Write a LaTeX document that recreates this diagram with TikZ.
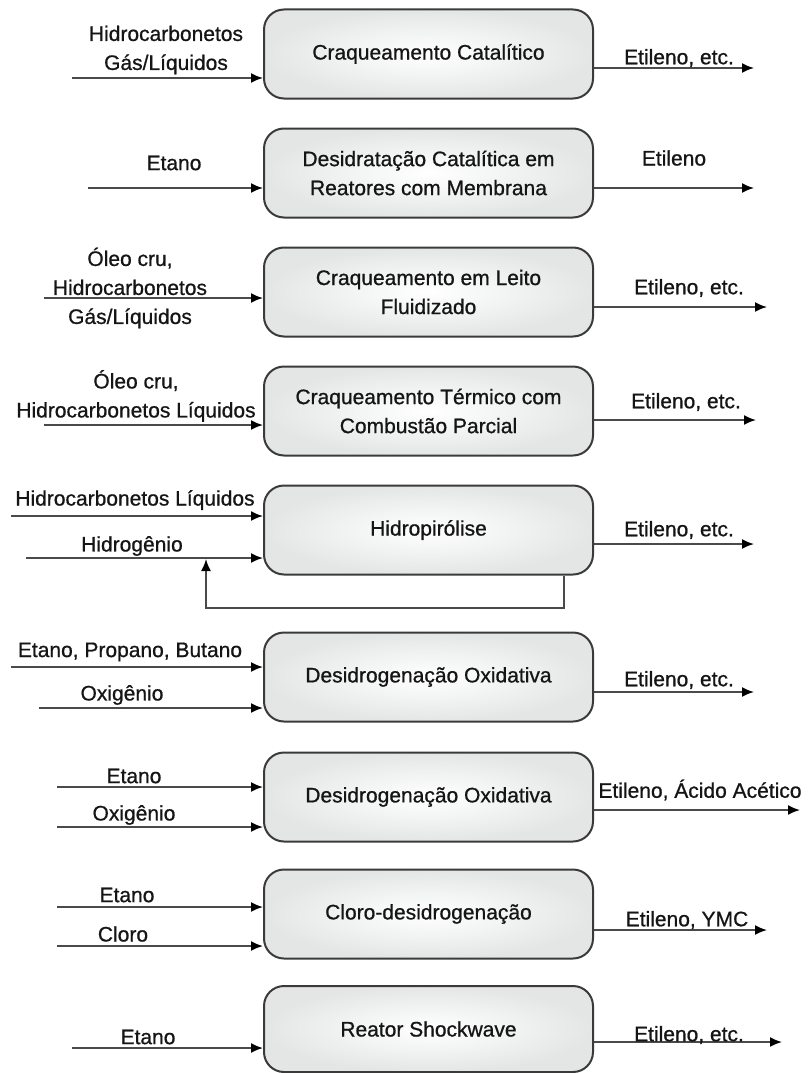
\documentclass[tikz,border=0pt]{standalone}
\usepackage{fontspec}
\setmainfont{Liberation Sans}[FakeBold=0.8]
\usetikzlibrary{arrows.meta}
\definecolor{edge}{HTML}{3A3A3A}
\definecolor{flowc}{HTML}{4A4A4A}
\definecolor{ink}{HTML}{151515}
\definecolor{fillout}{HTML}{E4E6E6}
\begin{document}
\begin{tikzpicture}[x=1pt,y=-1pt,
  every node/.style={text=ink,font=\fontsize{21}{29}\selectfont},
  unit/.style={draw=edge,line width=2pt,rounded corners=20pt,
    minimum width=329pt,minimum height=89pt,align=center,
    inner color=white,outer color=fillout},
  lbl/.style={inner sep=0pt,align=center},
  flow/.style={draw=flowc,line width=1.8pt,-{Latex[length=12pt,width=10pt,color=black]}}]
\useasboundingbox (0,0) rectangle (809,1073);

% process units
\node[unit] (b1) at (428.5,54)  {Craqueamento Catalítico};
\node[unit] (b2) at (428.5,173) {Desidratação Catalítica em\\Reatores com Membrana};
\node[unit] (b3) at (428.5,292) {Craqueamento em Leito\\Fluidizado};
\node[unit] (b4) at (428.5,411) {Craqueamento Térmico com\\Combustão Parcial};
\node[unit] (b5) at (428.5,530) {Hidropirólise};
\node[unit] (b6) at (428.5,677) {Desidrogenação Oxidativa};
\node[unit] (b7) at (428.5,797) {Desidrogenação Oxidativa};
\node[unit] (b8) at (428.5,914) {Cloro-desidrogenação};
\node[unit,minimum height=86pt] (b9) at (428.5,1029) {Reator Shockwave};

% feed ends
\coordinate (i1) at (72,78);
\coordinate (i2) at (88,188);
\coordinate (i3) at (44,298);
\coordinate (i4) at (44,425);
\coordinate (i5a) at (11,516);
\coordinate (i5b) at (26,558);
\coordinate (i6a) at (11,667);
\coordinate (i6b) at (39,708);
\coordinate (i7a) at (57,787);
\coordinate (i7b) at (57,827);
\coordinate (i8a) at (57,907);
\coordinate (i8b) at (57,946);
\coordinate (i9) at (72,1048);

% product ends
\coordinate (o1) at (754,68);
\coordinate (o2) at (754,188);
\coordinate (o3) at (767,307);
\coordinate (o4) at (756,420);
\coordinate (o5) at (754,544);
\coordinate (o6) at (754,692);
\coordinate (o7) at (800,810);
\coordinate (o8) at (767,930);
\coordinate (o9) at (782,1042);

% feed streams
\foreach \s/\b in {1/b1,2/b2,3/b3,4/b4,5a/b5,5b/b5,6a/b6,6b/b6,7a/b7,7b/b7,8a/b8,8b/b8,9/b9}
  \draw[flow] (i\s) -- (\b.west |- i\s);

% product streams
\foreach \s in {1,...,9}
  \draw[flow] (b\s.east |- o\s) -- (o\s);

% hydrogen recycle
\coordinate (r1) at (564,608);
\coordinate (r2) at (206,608);
\draw[flow] (b5.south -| r1) -- (r1) -- (r2) -- ([yshift=-1pt]r2 |- i5b);

% feed labels
\node[lbl] (t1) at (166,50) {Hidrocarbonetos\\Gás/Líquidos};
\node[lbl] (t2) at (174,163) {Etano};
\node[lbl] (t3) at (130,288) {Óleo cru,\\Hidrocarbonetos\\Gás/Líquidos};
\node[lbl] (t4) at (136,396) {Óleo cru,\\Hidrocarbonetos Líquidos};
\node[lbl] (t5a) at (135,500) {Hidrocarbonetos Líquidos};
\node[lbl] (t5b) at (132,546) {Hidrogênio};
\node[lbl] (t6a) at (130,652) {Etano, Propano, Butano};
\node[lbl] (t6b) at (122,695) {Oxigênio};
\node[lbl] (t7a) at (134,776) {Etano};
\node[lbl] (t7b) at (134,815) {Oxigênio};
\node[lbl] (t8a) at (127,895) {Etano};
\node[lbl] (t8b) at (123,934) {Cloro};
\node[lbl] (t9) at (148,1037) {Etano};

% product labels
\node[lbl] (p1) at (679,58) {Etileno, etc.};
\node[lbl] (p2) at (674,158) {Etileno};
\node[lbl] (p3) at (689,288) {Etileno, etc.};
\node[lbl] (p4) at (686,402) {Etileno, etc.};
\node[lbl] (p5) at (679,530) {Etileno, etc.};
\node[lbl] (p6) at (679,680) {Etileno, etc.};
\node[lbl] (p7) at (700,790) {Etileno, Ácido Acético};
\node[lbl] (p8) at (687,920) {Etileno, YMC};
\node[lbl] (p9) at (689,1035) {Etileno, etc.};
\end{tikzpicture}
\end{document}
